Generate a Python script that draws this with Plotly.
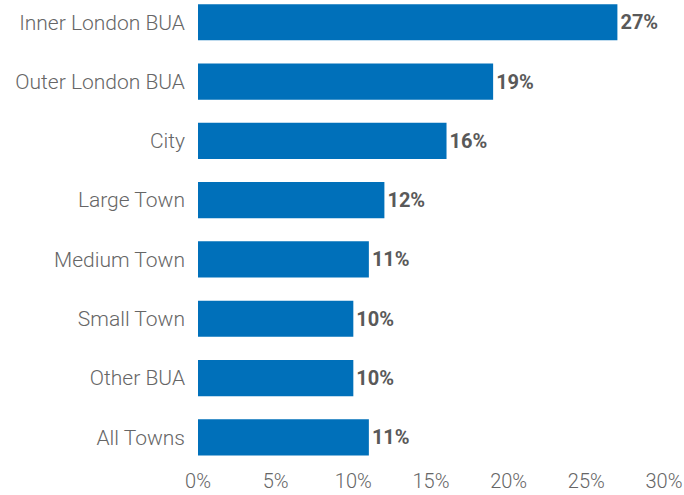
import plotly.graph_objects as go

categories = ["All Towns", "Other BUA", "Small Town", "Medium Town",
              "Large Town", "City", "Outer London BUA", "Inner London BUA"]
values = [11, 10, 10, 11, 12, 16, 19, 27]
tick_vals = [0, 5, 10, 15, 20, 25, 30]
tick_text = ["0%", "5%", "10%", "15%", "20%", "25%", "30%"]

fig = go.Figure(go.Bar(
    x=values,
    y=categories,
    orientation="h",
    marker=dict(color="#0070BA", line=dict(width=0)),
    width=0.61,
    text=[f"{v}%" for v in values],
    textposition="outside",
    cliponaxis=False,
    textfont=dict(family="Roboto", size=20, color="#595959", weight="bold"),
))

fig.update_layout(
    width=684, height=495,
    margin=dict(l=198, r=20, t=0, b=28),
    plot_bgcolor="white", paper_bgcolor="white",
    showlegend=False,
    font=dict(family="Roboto", color="#595959"),
)
fig.update_xaxes(
    range=[0, 30], tickvals=tick_vals, ticktext=tick_text,
    showgrid=False, zeroline=False, showline=False,
    tickfont=dict(family="Roboto", size=20, color="#666666", weight=300),
    ticklabelstandoff=0,
    ticklabeloverflow="allow",
    automargin=False,
)
fig.update_yaxes(
    range=[-0.5, 7.375],
    showgrid=False, zeroline=False, showline=False,
    tickfont=dict(family="Roboto", size=21, color="#666666", weight=300),
    ticklabelstandoff=12,
)

fig.write_html("out.html")
